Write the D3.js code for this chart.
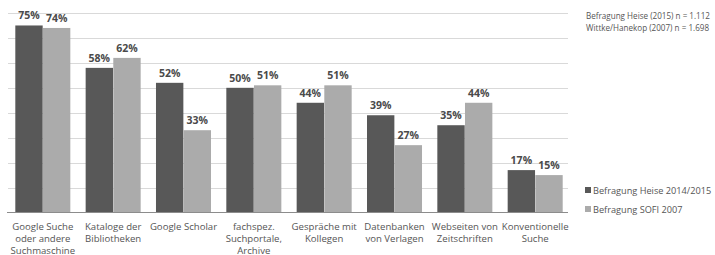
<!DOCTYPE html>
<html>
<head>
<meta charset="utf-8">
<script src="https://cdn.jsdelivr.net/npm/d3@7"></script>
<style>
  body { margin: 0; background: #fff; }
  svg text { font-family: "Open Sans", sans-serif; }
</style>
</head>
<body>
<div id="chart"></div>
<script>
// categories (lines of each label)
const categories = [
    ['Google Suche', 'oder andere', 'Suchmaschine'],
    ['Kataloge der', 'Bibliotheken'],
    ['Google Scholar'],
    ['fachspez.', 'Suchportale,', 'Archive'],
    ['Gespräche mit', 'Kollegen'],
    ['Datenbanken', 'von Verlagen'],
    ['Webseiten von', 'Zeitschriften'],
    ['Konventionelle', 'Suche']
];
const heise = [75, 58, 52, 50, 44, 39, 35, 17];
const sofi = [74, 62, 33, 51, 51, 27, 44, 15];
const seriesNames = ['Befragung Heise 2014/2015', 'Befragung SOFI 2007'];
const notes = ['Befragung Heise (2015) n = 1.112', 'Wittke/Hanekop (2007) n = 1.698'];
const gridTicks = [0, 10, 20, 30, 40, 50, 60, 70, 80];

const width = 715, height = 255;
const margin = { top: 13, right: 145, bottom: 42, left: 8 };
const colors = ['#585858', '#ababab'];

const svg = d3.select('#chart')
    .append('svg')
    .attr('width', width)
    .attr('height', height);

const x0 = d3.scaleBand()
    .domain(d3.range(categories.length))
    .range([margin.left, width - margin.right])
    .paddingInner(0.21)
    .paddingOuter(0.1);
const x1 = d3.scaleBand()
    .domain([0, 1])
    .range([0, x0.bandwidth()])
    .padding(0.01);
const y = d3.scaleLinear()
    .domain([0, 80])
    .range([height - margin.bottom - 0.5, margin.top]);

// gridlines
svg.append('g')
    .selectAll('line')
    .data(gridTicks.slice(1))
    .join('line')
    .attr('x1', margin.left)
    .attr('x2', width - margin.right - 2)
    .attr('y1', d => Math.round(y(d)) + 0.5)
    .attr('y2', d => Math.round(y(d)) + 0.5)
    .attr('stroke', '#d9d9d9')
    .attr('stroke-width', 1.2);

const rows = categories.map((c, i) => ({ i, vals: [heise[i], sofi[i]] }));

const groups = svg.append('g')
    .selectAll('g')
    .data(rows)
    .join('g')
    .attr('transform', d => `translate(${x0(d.i)},0)`);

groups.selectAll('rect')
    .data(d => d.vals.map((v, k) => ({ v, k })))
    .join('rect')
    .attr('x', d => x1(d.k))
    .attr('width', x1.bandwidth())
    .attr('y', d => y(d.v))
    .attr('height', d => y(0) - y(d.v))
    .attr('fill', d => colors[d.k]);

groups.selectAll('text.val')
    .data(d => d.vals.map((v, k) => ({ v, k })))
    .join('text')
    .attr('class', 'val')
    .attr('x', d => x1(d.k) + x1.bandwidth() / 2)
    .attr('y', d => y(d.v) - 6)
    .attr('text-anchor', 'middle')
    .attr('font-size', '10.5px')
    .attr('font-weight', 'bold')
    .attr('fill', '#4a4a4a')
    .text(d => d.v + '%');

// baseline
svg.append('line')
    .attr('x1', margin.left - 1)
    .attr('x2', width - margin.right - 2)
    .attr('y1', y(0))
    .attr('y2', y(0))
    .attr('stroke', '#8c8c8c')
    .attr('stroke-width', 1.2);

// category labels
groups.append('text')
    .attr('text-anchor', 'middle')
    .attr('font-size', '9.6px')
    .attr('fill', '#555')
    .selectAll('tspan')
    .data(d => categories[d.i])
    .join('tspan')
    .attr('x', x0.bandwidth() / 2)
    .attr('y', (d, j) => y(0) + 17 + j * 12)
    .text(d => d);

// legend
const legend = svg.append('g')
    .attr('transform', `translate(${width - margin.right + 15},0)`);
seriesNames.forEach((name, k) => {
    const ly = 190 + k * 19;
    legend.append('rect')
        .attr('x', 0)
        .attr('y', ly - 3)
        .attr('width', 6)
        .attr('height', 6)
        .attr('fill', colors[k]);
    legend.append('text')
        .attr('x', 8)
        .attr('y', ly + 3.5)
        .attr('font-size', '9.2px')
        .attr('fill', '#555')
        .text(name);
});

// sample notes
svg.append('g')
    .selectAll('text')
    .data(notes)
    .join('text')
    .attr('x', width - margin.right + 16)
    .attr('y', (d, i) => 19 + i * 12)
    .attr('font-size', '8.1px')
    .attr('fill', '#555')
    .text(d => d);
</script>
</body>
</html>
